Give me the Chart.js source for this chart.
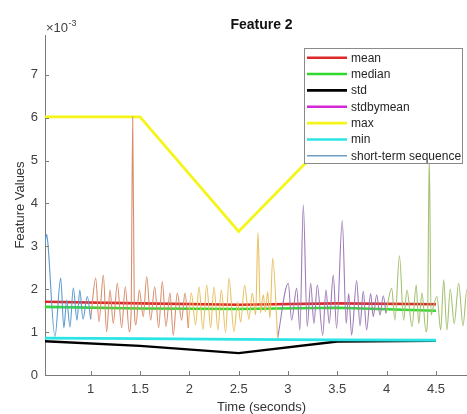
<!DOCTYPE html>
<html><head><meta charset="utf-8">
<script src="https://cdn.jsdelivr.net/npm/chart.js@4"></script>
<style>
html,body{margin:0;padding:0;overflow:hidden;background:#fff;width:467px;height:414px}
#wrap{width:478px;height:414px}
</style></head>
<body><div id="wrap"><canvas id="c" width="478" height="414"></canvas></div>
<script>
// ---- values are in units of 10^-3 ----
const xTickValues = [1, 1.5, 2, 2.5, 3, 3.5, 4, 4.5];
const xTickLabels = ['1', '1.5', '2', '2.5', '3', '3.5', '4', '4.5'];
const yTickValues = [0, 1, 2, 3, 4, 5, 6, 7];
const yTickLabels = ['0', '1', '2', '3', '4', '5', '6', '7'];

const statTimes    = [0.5, 1.5, 2.5, 3.5, 4.5];
const meanVals     = [1.71, 1.67, 1.64, 1.67, 1.65];
const medianVals   = [1.59, 1.55, 1.54, 1.57, 1.50];
const stdVals      = [0.79, 0.68, 0.51, 0.78, 0.80];
const stdByMeanVals= [462, 407, 311, 467, 485];   // dimensionless ratio, far above the visible range
const maxVals      = [6.02, 6.02, 3.35, 5.70, 5.10];
const minVals      = [0.86, 0.85, 0.83, 0.82, 0.81];

// short-term sequence, five coloured segments
const seq1T = [0.537,0.553,0.565,0.638,0.696,0.728,0.757,0.79,0.824,0.861,0.89,0.922,0.966,1.0];
const seq1V = [3.05,3.28,3.1,0.9,2.26,1.1,1.75,1.12,2.03,1.28,1.98,1.3,1.83,1.3];
const seq2T = [1.0,1.051,1.084,1.128,1.162,1.196,1.229,1.27,1.314,1.351,1.391,1.41,1.426,1.442,1.459,1.493,1.533,1.568,1.608,1.649,1.689,1.726,1.763,1.804,1.837,1.878,1.922,1.956,1.989];
const seq2V = [1.3,2.26,1.24,2.33,1.01,1.98,1.2,2.14,1.1,2.06,1.01,1.5,6.02,1.6,1.17,1.98,1.36,2.29,1.28,2.06,1.1,2.18,1.13,1.91,0.93,1.91,1.28,1.91,1.1];
const seq3T = [1.989,2.02,2.064,2.098,2.138,2.176,2.216,2.25,2.29,2.324,2.368,2.402,2.452,2.49,2.52,2.561,2.604,2.638,2.672,2.696,2.72,2.75,2.77,2.794,2.817,2.845,2.895];
const seq3V = [1.1,1.91,1.17,2.06,1.06,2.1,1.1,2.06,1.05,1.98,1.0,2.26,1.01,1.7,1.24,2.1,1.3,1.91,1.4,3.32,1.45,1.87,1.48,1.94,1.33,2.73,0.86];
const seq4T = [2.895,3.003,3.037,3.088,3.121,3.155,3.195,3.23,3.263,3.297,3.352,3.385,3.418,3.459,3.493,3.55,3.59,3.615,3.645,3.696,3.73,3.763,3.797,3.838,3.864,3.899,3.932,3.966,3.993];
const seq4V = [0.86,2.14,1.28,2.02,1.05,3.97,1.13,2.14,1.2,2.1,0.93,1.98,1.2,2.33,1.09,3.6,1.2,1.9,0.93,2.2,1.15,1.95,1.05,1.9,1.36,1.87,1.4,1.85,1.44];
const seq5T = [3.993,4.051,4.084,4.13,4.172,4.206,4.257,4.30,4.325,4.358,4.399,4.415,4.432,4.45,4.469,4.51,4.548,4.578,4.611,4.645,4.685,4.73,4.774,4.814,4.85,4.89,4.93];
const seq5V = [1.44,2.02,1.28,2.78,1.28,1.98,1.13,2.1,1.2,1.91,1.01,1.3,5.1,1.4,1.55,1.83,1.05,2.22,1.05,2.0,1.2,2.14,1.15,2.0,1.2,1.9,1.4];

const FONT = '"Liberation Sans", Arial, Helvetica, sans-serif';
const AXIS = '#7a7a7a';
const TXT = '#404040';

const pts = (T, V) => T.map((t, i) => ({x: t, y: V[i]}));

function statDs(label, T, V, color, order, lw) {
  return {label, data: pts(T, V), borderColor: color, backgroundColor: color,
    borderWidth: lw, pointRadius: 0, tension: 0, order, inLegend: true, legendColor: color, legendWidth: 2.6};
}
function seqDs(label, T, V, color, inLegend) {
  return {label, data: pts(T, V), borderColor: color, backgroundColor: color,
    borderWidth: 1.1, pointRadius: 0, cubicInterpolationMode: 'monotone', order: 1,
    inLegend, legendColor: '#6f9ec4', legendWidth: 1.5};
}

const datasets = [
  statDs('mean', statTimes, meanVals, 'rgb(222,40,40)', 7, 2.6),
  statDs('median', statTimes, medianVals, 'rgb(45,218,45)', 6, 2.6),
  statDs('std', statTimes, stdVals, '#000000', 5, 2.4),
  statDs('stdbymean', statTimes, stdByMeanVals, 'rgb(212,40,212)', 4, 2.6),
  statDs('max', statTimes, maxVals, 'rgb(245,245,25)', 3, 2.8),
  statDs('min', statTimes, minVals, 'rgb(45,228,228)', 2, 2.8),
  seqDs('short-term sequence', seq1T, seq1V, 'rgb(92,155,208)', true),
  seqDs('short-term sequence', seq2T, seq2V, 'rgb(216,143,110)', false),
  seqDs('short-term sequence', seq3T, seq3V, 'rgb(232,193,100)', false),
  seqDs('short-term sequence', seq4T, seq4V, 'rgb(158,124,182)', false),
  seqDs('short-term sequence', seq5T, seq5V, 'rgb(165,193,115)', false)
];

const deco = {
  id: 'deco',
  afterDraw(chart) {
    const {ctx, chartArea: a, scales: {x, y}} = chart;
    ctx.save();
    // inward tick marks
    ctx.strokeStyle = AXIS; ctx.lineWidth = 1;
    ctx.beginPath();
    xTickValues.forEach(v => { const px = Math.round(x.getPixelForValue(v)) + 0.5; ctx.moveTo(px, a.bottom); ctx.lineTo(px, a.bottom - 4); });
    yTickValues.forEach(v => { const py = Math.round(y.getPixelForValue(v)) + 0.5; ctx.moveTo(a.left, py); ctx.lineTo(a.left + 4, py); });
    ctx.stroke();
    // title
    ctx.fillStyle = '#111'; ctx.font = 'bold 14px ' + FONT;
    ctx.textAlign = 'center'; ctx.textBaseline = 'alphabetic';
    ctx.fillText('Feature 2', (a.left + a.right) / 2, 28.5);
    // exponent
    ctx.textAlign = 'left'; ctx.fillStyle = TXT; ctx.font = '13px ' + FONT;
    ctx.fillText('\u00d710', 46, 31.5);
    const w = ctx.measureText('\u00d710').width;
    ctx.font = '9px ' + FONT;
    ctx.fillText('-3', 46 + w + 0.5, 25.5);
    // legend
    const items = chart.data.datasets.filter(d => d.inLegend);
    const bx = 304.5, by = 48.5, bw = 158, bh = 115;
    ctx.fillStyle = '#fff'; ctx.fillRect(bx, by, bw, bh);
    ctx.strokeStyle = '#8a8a8a'; ctx.lineWidth = 1; ctx.strokeRect(bx, by, bw, bh);
    ctx.font = '12px ' + FONT; ctx.textBaseline = 'middle';
    items.forEach((d, i) => {
      const ry = 57.7 + i * 16.35;
      ctx.strokeStyle = d.legendColor; ctx.lineWidth = d.legendWidth;
      ctx.beginPath(); ctx.moveTo(307, ry); ctx.lineTo(347, ry); ctx.stroke();
      ctx.fillStyle = '#262626';
      ctx.fillText(d.label, 351, ry + 0.5);
    });
    ctx.restore();
  }
};

Chart.defaults.font.family = FONT;

new Chart(document.getElementById('c'), {
  type: 'line',
  data: {datasets},
  options: {
    responsive: false, animation: false, devicePixelRatio: 1,
    layout: {padding: {top: 35, left: 0, right: 0, bottom: 0}},
    plugins: {legend: {display: false}, tooltip: {enabled: false}, title: {display: false}},
    scales: {
      x: {
        type: 'linear', min: 0.537, max: 4.926,
        afterBuildTicks: s => { s.ticks = xTickValues.map(v => ({value: v})); },
        afterFit: s => { s.height = 39; },
        ticks: {callback: (v, i) => xTickLabels[i], color: TXT, font: {size: 13}, padding: 7, maxRotation: 0, autoSkip: false},
        grid: {display: false, drawTicks: false},
        border: {display: true, color: AXIS, width: 1},
        title: {display: true, text: 'Time (seconds)', color: '#333', font: {size: 13, lineHeight: 1}, padding: {top: 0, bottom: 0}}
      },
      y: {
        type: 'linear', min: 0, max: 7.93,
        afterBuildTicks: s => { s.ticks = yTickValues.map(v => ({value: v})); },
        afterFit: s => { s.width = 45; },
        ticks: {callback: (v, i) => yTickLabels[i], color: TXT, font: {size: 13}, padding: 7, autoSkip: false},
        grid: {display: false, drawTicks: false},
        border: {display: true, color: AXIS, width: 1},
        title: {display: true, text: 'Feature Values', color: '#333', font: {size: 13, lineHeight: 1}, padding: {top: 13.5, bottom: 0}}
      }
    }
  },
  plugins: [deco]
});
</script>
</body></html>
